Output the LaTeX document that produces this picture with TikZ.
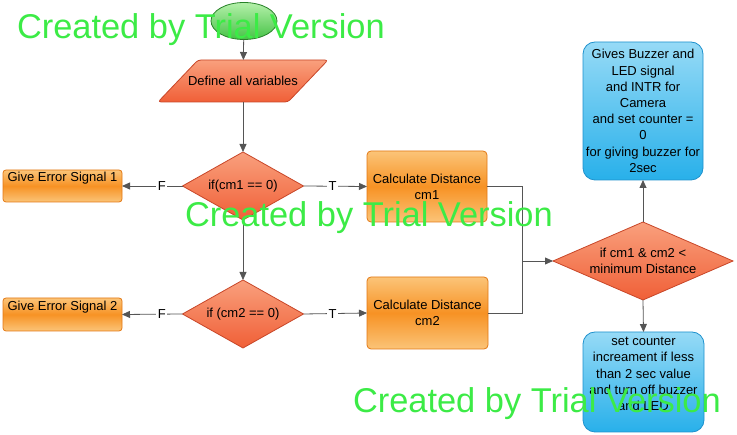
\documentclass[tikz,border=0pt]{standalone}
\usepackage{fontspec}
\setmainfont{Liberation Sans}
\usetikzlibrary{shapes.geometric,arrows.meta,backgrounds}
\definecolor{orfill}{RGB}{247,146,36}
\definecolor{orlight}{RGB}{251,196,120}
\definecolor{ordraw}{RGB}{226,120,20}
\definecolor{rdfill}{RGB}{240,95,55}
\definecolor{rdlight}{RGB}{249,160,125}
\definecolor{rddraw}{RGB}{200,70,40}
\definecolor{blfill}{RGB}{40,176,234}
\definecolor{bllight}{RGB}{150,218,246}
\definecolor{bldraw}{RGB}{30,145,205}
\definecolor{grfill}{RGB}{70,195,70}
\definecolor{grlight}{RGB}{180,240,170}
\definecolor{grdraw}{RGB}{40,130,40}
\definecolor{wmark}{RGB}{60,235,70}
\definecolor{conn}{RGB}{85,85,85}
\begin{document}
\begin{tikzpicture}[x=1pt,y=-1pt,
  font=\fontsize{13}{16.2}\selectfont,
  every node/.style={inner sep=0pt,outer sep=0pt},
  orbox/.style={rectangle,rounded corners=4pt,draw=ordraw,line width=0.8pt,
    top color=orlight,bottom color=orlight,middle color=orfill},
  blbox/.style={rectangle,rounded corners=12pt,draw=bldraw,line width=0.8pt,
    top color=bllight,bottom color=blfill},
  rdshape/.style={draw=rddraw,line width=0.8pt,top color=rdlight,bottom color=rdfill},
  decision/.style={diamond,rdshape,minimum width=121pt,minimum height=68pt},
  connector/.style={draw=conn,line width=0.8pt,-{Triangle[length=8pt,width=7pt]}},
  plainline/.style={draw=conn,line width=0.8pt},
  lbl/.style={fill=white,inner sep=1.5pt},
  wm/.style={anchor=base west,text=wmark,font=\fontsize{34.4}{40}\selectfont}
]
\useasboundingbox (0,0) rectangle (737,435);

% start
\node[ellipse,draw=grdraw,line width=0.8pt,top color=grlight,bottom color=grfill,
  minimum width=66pt,minimum height=37pt] (start) at (244,21) {};

% define all variables (parallelogram)
\node[minimum width=130pt,minimum height=42pt] (def) at (243,81) {Define all variables};
\begin{scope}[on background layer]
  \path[rdshape,rounded corners=3pt]
    ([xshift=20pt]def.north west) -- ([xshift=20pt]def.north east)
    -- ([xshift=-20pt]def.south east) -- ([xshift=-20pt]def.south west) -- cycle;
\end{scope}

% decisions
\node[decision,label={center:if(cm1 == 0)}] (d1) at (243,186) {};
\node[decision,label={center:if (cm2 == 0)}] (d2) at (243,314) {};
\node[diamond,rdshape,minimum width=180pt,minimum height=78pt,
  label={[align=center]center:{if cm1 \& cm2 <\\minimum Distance}}] (d3) at (643,261) {};

% error boxes
\node[orbox,rounded corners=3pt,minimum width=119pt,minimum height=32pt,
  label={[yshift=8pt]center:Give Error Signal 1}] (e1) at (62.5,186) {};
\node[orbox,rounded corners=3pt,minimum width=119pt,minimum height=33pt,
  label={[yshift=7.5pt]center:Give Error Signal 2}] (e2) at (62.5,314.5) {};

% calculate boxes
\node[orbox,minimum width=120pt,minimum height=71pt,
  label={[align=center]center:{Calculate Distance\\cm1}}] (c1) at (427,186.5) {};
\node[orbox,minimum width=121pt,minimum height=72pt,
  label={[align=center]center:{Calculate Distance\\cm2}}] (c2) at (427.5,313) {};

% blue boxes
\node[blbox,minimum width=120pt,minimum height=138pt,
  label={[align=center]center:{Gives Buzzer and\\LED signal\\and INTR for\\Camera\\and set counter =\\0\\for giving buzzer for\\2sec}}] (b1) at (643,111) {};
\node[blbox,minimum width=121pt,minimum height=100pt,
  label={[align=center,yshift=8pt]center:{set counter\\increament if less\\than 2 sec value\\and turn off buzzer\\and LED}}] (b2) at (643.5,382) {};

% connectors
\coordinate (m) at (522,261);
\draw[connector] (start) -- (def);
\draw[connector] (def) -- (d1);
\draw[connector] (d1) -- (d2);
\draw[connector] (d1.west) -- node[lbl,pos=0.34]{F} (e1.east);
\draw[connector] (d1.east) -- node[lbl,pos=0.46]{T} (c1.west);
\draw[connector] (d2.west) -- node[lbl,pos=0.34]{F} (e2.east);
\draw[connector] (d2.east) -- node[lbl,pos=0.46]{T} (c2.west);
\draw[plainline] (c1.east) -| (m);
\draw[plainline] (c2.east) -| (m);
\draw[connector] (m) -- (d3.west);
\draw[connector] (d3.north) -- (b1.south);
\draw[connector] (d3.south) -- (b2.north);

% watermarks
\node[wm] (wm1) at (17,39) {Created by Trial Version};
\node[wm] (wm2) at (185,227) {Created by Trial Version};
\node[wm] (wm3) at (353,413) {Created by Trial Version};
\end{tikzpicture}
\end{document}
